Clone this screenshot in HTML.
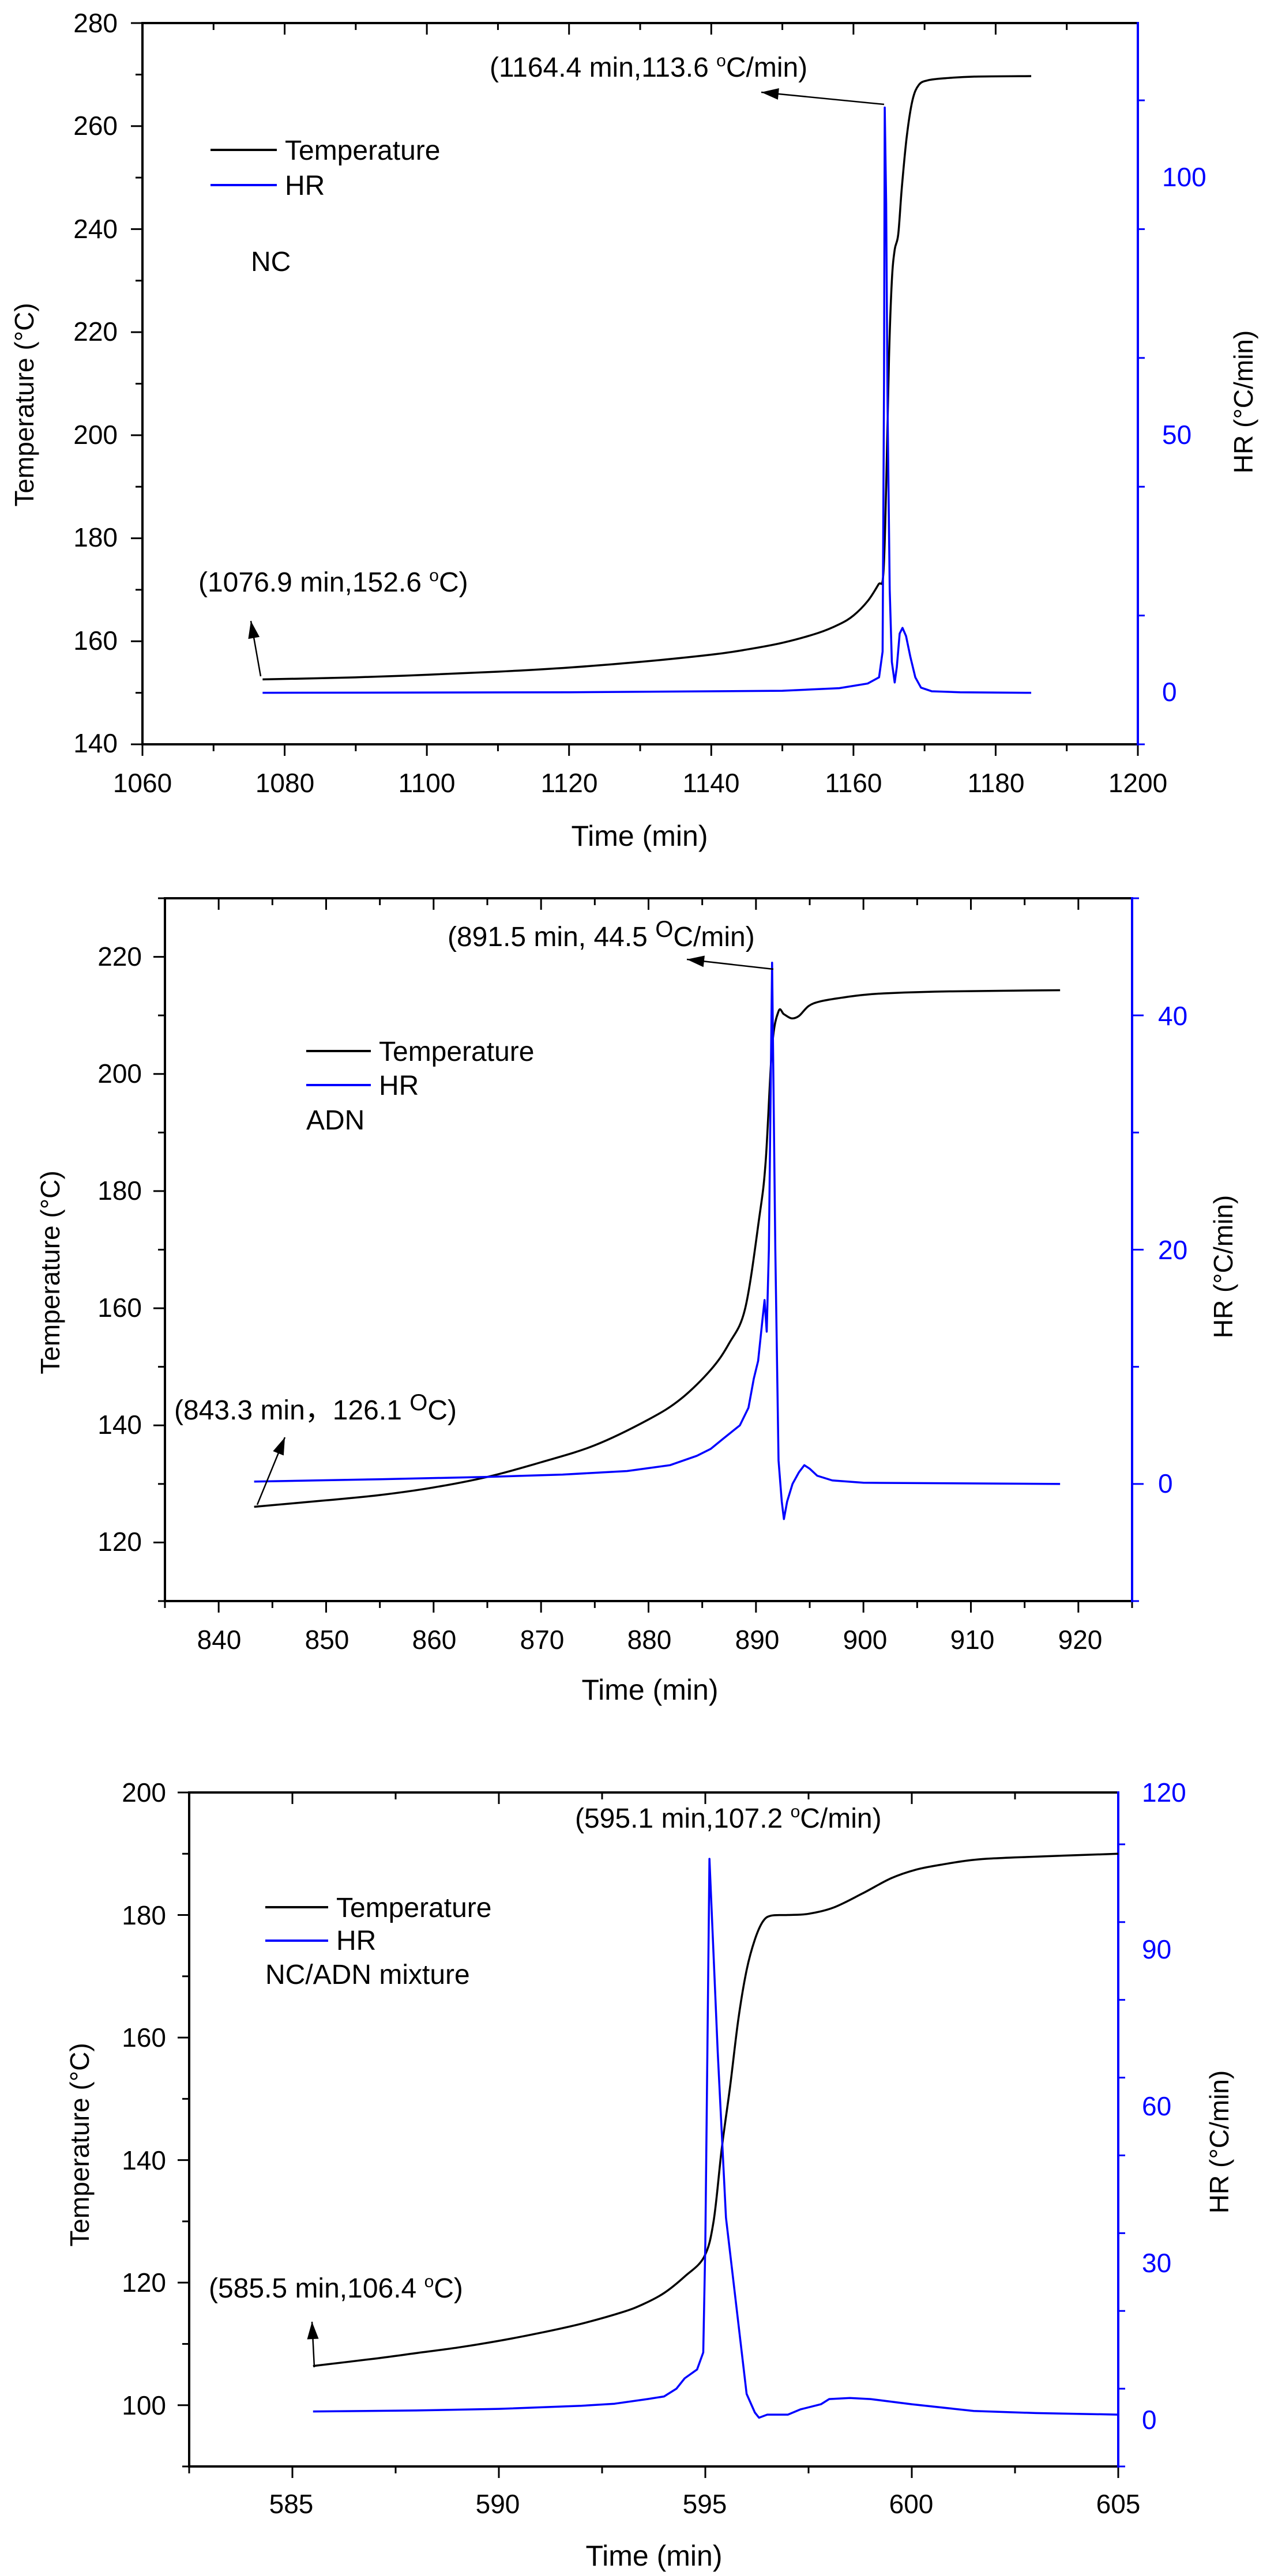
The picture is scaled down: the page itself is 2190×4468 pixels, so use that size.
<!DOCTYPE html>
<html><head><meta charset="utf-8">
<style>
html,body{margin:0;padding:0;background:#fff;}
svg{display:block;font-family:"Liberation Sans",Arial,sans-serif;}
</style></head>
<body>
<svg id="s" width="2190" height="4468" viewBox="0 0 2190 4468" xmlns="http://www.w3.org/2000/svg">
<rect width="2190" height="4468" fill="#fff"/>
<g id="g"></g>
<g font-size="46" fill="#000">
<!-- Chart 1 -->
<g text-anchor="end">
<text x="204" y="56">280</text><text x="204" y="234">260</text><text x="204" y="413">240</text><text x="204" y="591">220</text><text x="204" y="770">200</text><text x="204" y="948">180</text><text x="204" y="1127">160</text><text x="204" y="1305">140</text>
</g>
<g text-anchor="start" fill="#0000ff"><text x="2015" y="323">100</text><text x="2015" y="770">50</text><text x="2015" y="1216">0</text></g>
<g text-anchor="middle">
<text x="247" y="1374">1060</text><text x="494" y="1374">1080</text><text x="740" y="1374">1100</text><text x="987" y="1374">1120</text><text x="1233" y="1374">1140</text><text x="1480" y="1374">1160</text><text x="1727" y="1374">1180</text><text x="1973" y="1374">1200</text>
<text x="1109" y="1467" font-size="50">Time (min)</text>
</g>
<text x="0" y="0" text-anchor="middle" transform="translate(58,702) rotate(-90)">Temperature (°C)</text>
<text x="0" y="0" text-anchor="middle" transform="translate(2172,697) rotate(-90)">HR (°C/min)</text>
<text x="494" y="277" font-size="48">Temperature</text>
<text x="494" y="338" font-size="48">HR</text>
<text x="435" y="470" font-size="48">NC</text>
<text x="849" y="133" font-size="48">(1164.4 min,113.6 <tspan font-size="30" dy="-18">o</tspan><tspan dy="18">C/min)</tspan></text>
<text x="344" y="1026" font-size="48">(1076.9 min,152.6 <tspan font-size="30" dy="-18">o</tspan><tspan dy="18">C)</tspan></text>

<!-- Chart 2 -->
<g text-anchor="end">
<text x="246" y="1675">220</text><text x="246" y="1878">200</text><text x="246" y="2081">180</text><text x="246" y="2284">160</text><text x="246" y="2487">140</text><text x="246" y="2690">120</text>
</g>
<g text-anchor="start" fill="#0000ff"><text x="2008" y="1778">40</text><text x="2008" y="2184">20</text><text x="2008" y="2589">0</text></g>
<g text-anchor="middle">
<text x="380" y="2860">840</text><text x="567" y="2860">850</text><text x="753" y="2860">860</text><text x="940" y="2860">870</text><text x="1126" y="2860">880</text><text x="1313" y="2860">890</text><text x="1500" y="2860">900</text><text x="1686" y="2860">910</text><text x="1873" y="2860">920</text>
<text x="1127" y="2948" font-size="50">Time (min)</text>
</g>
<text x="0" y="0" text-anchor="middle" transform="translate(103,2207) rotate(-90)">Temperature (°C)</text>
<text x="0" y="0" text-anchor="middle" transform="translate(2137,2197) rotate(-90)">HR (°C/min)</text>
<text x="657" y="1840" font-size="48">Temperature</text>
<text x="657" y="1899" font-size="48">HR</text>
<text x="531" y="1959" font-size="48">ADN</text>
<text x="776" y="1641" font-size="48">(891.5 min, 44.5 <tspan font-size="40" dy="-16">O</tspan><tspan dy="16">C/min)</tspan></text>
<text x="302" y="2462" font-size="48">(843.3 min，126.1 <tspan font-size="40" dy="-16">O</tspan><tspan dy="16">C)</tspan></text>

<!-- Chart 3 -->
<g text-anchor="end">
<text x="288" y="3125">200</text><text x="288" y="3338">180</text><text x="288" y="3550">160</text><text x="288" y="3763">140</text><text x="288" y="3975">120</text><text x="288" y="4188">100</text>
</g>
<g text-anchor="start" fill="#0000ff"><text x="1980" y="3125">120</text><text x="1980" y="3397">90</text><text x="1980" y="3669">60</text><text x="1980" y="3941">30</text><text x="1980" y="4213">0</text></g>
<g text-anchor="middle">
<text x="505" y="4359">585</text><text x="863" y="4359">590</text><text x="1222" y="4359">595</text><text x="1580" y="4359">600</text><text x="1939" y="4359">605</text>
<text x="1134" y="4450" font-size="50">Time (min)</text>
</g>
<text x="0" y="0" text-anchor="middle" transform="translate(154,3720) rotate(-90)">Temperature (°C)</text>
<text x="0" y="0" text-anchor="middle" transform="translate(2130,3715) rotate(-90)">HR (°C/min)</text>
<text x="583" y="3325" font-size="48">Temperature</text>
<text x="583" y="3382" font-size="48">HR</text>
<text x="460" y="3441" font-size="48">NC/ADN mixture</text>
<text x="997" y="3170" font-size="48">(595.1 min,107.2 <tspan font-size="30" dy="-18">o</tspan><tspan dy="18">C/min)</tspan></text>
<text x="362" y="3985" font-size="48">(585.5 min,106.4 <tspan font-size="30" dy="-18">o</tspan><tspan dy="18">C)</tspan></text>
</g>
</svg>
<script>
const NS="http://www.w3.org/2000/svg";const G=document.getElementById('g');
function el(t,a){const e=document.createElementNS(NS,t);for(const k in a)e.setAttribute(k,a[k]);G.appendChild(e);return e;}
function line(x1,y1,x2,y2,c,w){el('line',{x1,y1,x2,y2,stroke:c,'stroke-width':w});}
function arrow(x1,y1,x2,y2){line(x1,y1,x2,y2,'#000',2.5);const a=Math.atan2(y2-y1,x2-x1),L=30,W=10;
const bx=x2-L*Math.cos(a),by=y2-L*Math.sin(a);
el('polygon',{points:`${x2},${y2} ${bx+W*Math.sin(a)},${by-W*Math.cos(a)} ${bx-W*Math.sin(a)},${by+W*Math.cos(a)}`,fill:'#000'});}
function smooth(P){let d=`M${P[0][0]},${P[0][1]}`;for(let i=0;i<P.length-1;i++){const p0=P[Math.max(0,i-1)],p1=P[i],p2=P[i+1],p3=P[Math.min(P.length-1,i+2)];
const t=0.5/3;d+=` C${p1[0]+(p2[0]-p0[0])*t},${p1[1]+(p2[1]-p0[1])*t} ${p2[0]-(p3[0]-p1[0])*t},${p2[1]-(p3[1]-p1[1])*t} ${p2[0]},${p2[1]}`;}return d;}
function chart(c){
const X=v=>c.x0+(v-c.xmin)/(c.xmax-c.xmin)*(c.x1-c.x0);
const Y=v=>c.y1-(v-c.ymin)/(c.ymax-c.ymin)*(c.y1-c.y0);
const R=v=>c.y1-(v-c.rmin)/(c.rmax-c.rmin)*(c.y1-c.y0);
const isMaj=(v,o,s)=>Math.abs(((v-o)/s)-Math.round((v-o)/s))<1e-6;
for(let v=c.xmin;v<=c.xmax+1e-6;v+=c.xminor){const maj=isMaj(v,c.xmaj0,c.xmajor);const x=X(v);
line(x,c.y1,x,c.y1+(maj?20:12),'#000',3);line(x,c.y0,x,c.y0+(maj?20:12),'#000',3);}
for(let v=c.ymin;v<=c.ymax+1e-6;v+=c.yminor){const maj=isMaj(v,c.ymaj0,c.ymajor);const y=Y(v);
line(c.x0,y,c.x0-(maj?20:12),y,'#000',3);}
for(let v=c.rmin;v<=c.rmax+1e-6;v+=c.rminor){const maj=isMaj(v,c.rmaj0,c.rmajor);const y=R(v);
line(c.x1,y,c.x1+(maj?20:12),y,'#0000ff',3);}
line(c.x0-2,c.y0,c.x1,c.y0,'#000',4);line(c.x0-2,c.y1,c.x1,c.y1,'#000',4);line(c.x0,c.y0,c.x0,c.y1,'#000',4);
line(c.x1,c.y0-2,c.x1,c.y1+2,'#0000ff',4);
el('path',{d:smooth(c.T.map(p=>[X(p[0]),Y(p[1])])),fill:'none',stroke:'#000','stroke-width':3.5,'stroke-linejoin':'round'});
el('polyline',{points:c.H.map(p=>X(p[0])+','+R(p[1])).join(' '),fill:'none',stroke:'#0000ff','stroke-width':3.5,'stroke-linejoin':'round'});
line(c.lx0,c.ly1,c.lx1,c.ly1,'#000',4);line(c.lx0,c.ly2,c.lx1,c.ly2,'#0000ff',4);
c.arrows.forEach(a=>arrow(...a));
}
chart({x0:247,x1:1973,y0:40,y1:1291,xmin:1060,xmax:1200,ymin:140,ymax:280,rmin:-10,rmax:130,
xminor:10,xmajor:20,xmaj0:1060,yminor:10,ymajor:20,ymaj0:140,rminor:25,rmajor:50,rmaj0:0,
T:[[1076.9,152.6],[1090,153],[1100,153.5],[1110,154.1],[1120,154.9],[1130,156],[1140,157.4],[1145,158.4],[1150,159.7],[1155,161.6],[1158,163.3],[1160,165],[1162,167.8],[1163.5,171],[1164.2,173],[1164.6,190],[1165,215],[1165.4,230],[1165.8,236],[1166.3,239],[1166.8,248],[1167.5,258],[1168.3,265],[1169.2,268],[1170.5,268.9],[1173,269.3],[1177,269.6],[1185,269.7]],
H:[[1076.9,0],[1120,0.1],[1150,0.4],[1158,0.9],[1162,1.8],[1163.6,3],[1164.1,8],[1164.3,60],[1164.4,113.6],[1164.6,95],[1164.8,55],[1165.1,20],[1165.4,6],[1165.8,2],[1166.1,5],[1166.5,11.5],[1166.9,12.6],[1167.4,11],[1168,7],[1168.7,3],[1169.5,1],[1171,0.3],[1175,0.1],[1185,0]],
lx0:365,lx1:480,ly1:260,ly2:321,
arrows:[[1533,181,1320,160],[452,1173,435,1077]]});
chart({x0:286,x1:1963,y0:1558,y1:2777,xmin:835,xmax:925,ymin:110,ymax:230,rmin:-10,rmax:50,
xminor:5,xmajor:10,xmaj0:840,yminor:10,ymajor:20,ymaj0:120,rminor:10,rmajor:20,rmaj0:0,
T:[[843.3,126.1],[850,127.2],[855,128.1],[860,129.4],[865,131.2],[870,133.7],[875,136.6],[880,141],[883,144.5],[885.8,149.5],[887.5,154],[889,160],[890.3,175.4],[890.9,185],[891.5,204.6],[892.1,210.7],[892.6,210.2],[893.3,209.5],[894,209.9],[894.9,211.6],[896,212.4],[897.9,213],[900,213.5],[902.4,213.8],[908,214.1],[918.3,214.3]],
H:[[843.3,0.2],[855,0.4],[865,0.6],[872,0.8],[878,1.1],[882,1.6],[884.5,2.4],[885.8,3],[887,3.9],[888.5,5],[889.3,6.5],[889.8,9],[890.2,10.5],[890.6,14],[890.8,15.7],[891.0,13],[891.2,20],[891.5,44.5],[891.8,20],[892.1,2],[892.4,-1.5],[892.6,-3],[892.9,-1.5],[893.4,0],[894,1],[894.5,1.6],[895,1.3],[895.7,0.7],[897.1,0.3],[900,0.1],[918.3,0]],
lx0:531,lx1:643,ly1:1823,ly2:1882,
arrows:[[1341,1681,1191,1664],[446,2610,494,2493]]});
chart({x0:328,x1:1939,y0:3109,y1:4278,xmin:582.5,xmax:605,ymin:90,ymax:200,rmin:-10,rmax:120,
xminor:2.5,xmajor:5,xmaj0:585,yminor:10,ymajor:20,ymaj0:100,rminor:15,rmajor:30,rmaj0:0,
T:[[585.5,106.4],[587,107.6],[588,108.5],[589,109.4],[590,110.5],[591,111.8],[592,113.3],[593,115.2],[593.5,116.5],[594,118.3],[594.5,121],[594.97,124.2],[595.2,130],[595.4,142],[595.6,152],[595.8,163],[596,171],[596.2,176],[596.4,179],[596.6,179.9],[597,180],[597.5,180.2],[598.1,181.2],[598.8,183.5],[599.5,186],[600.1,187.4],[600.7,188.2],[601.5,189],[602.5,189.4],[605,190]],
H:[[585.5,0.6],[588,0.8],[590,1.1],[592,1.7],[592.8,2.1],[593.6,3],[594,3.5],[594.3,5],[594.5,7],[594.8,8.7],[594.95,12],[595.0,33],[595.1,107.2],[595.3,70],[595.5,38],[595.8,17.6],[596,4],[596.2,0.4],[596.3,-0.6],[596.5,0],[597,0],[597.3,1],[597.8,2],[598,3],[598.5,3.2],[599,3],[600,2],[601.5,0.7],[603,0.3],[605,0]],
lx0:460,lx1:569,ly1:3308,ly2:3366,
arrows:[[545,4106,541,4027]]});
</script>
</body></html>
